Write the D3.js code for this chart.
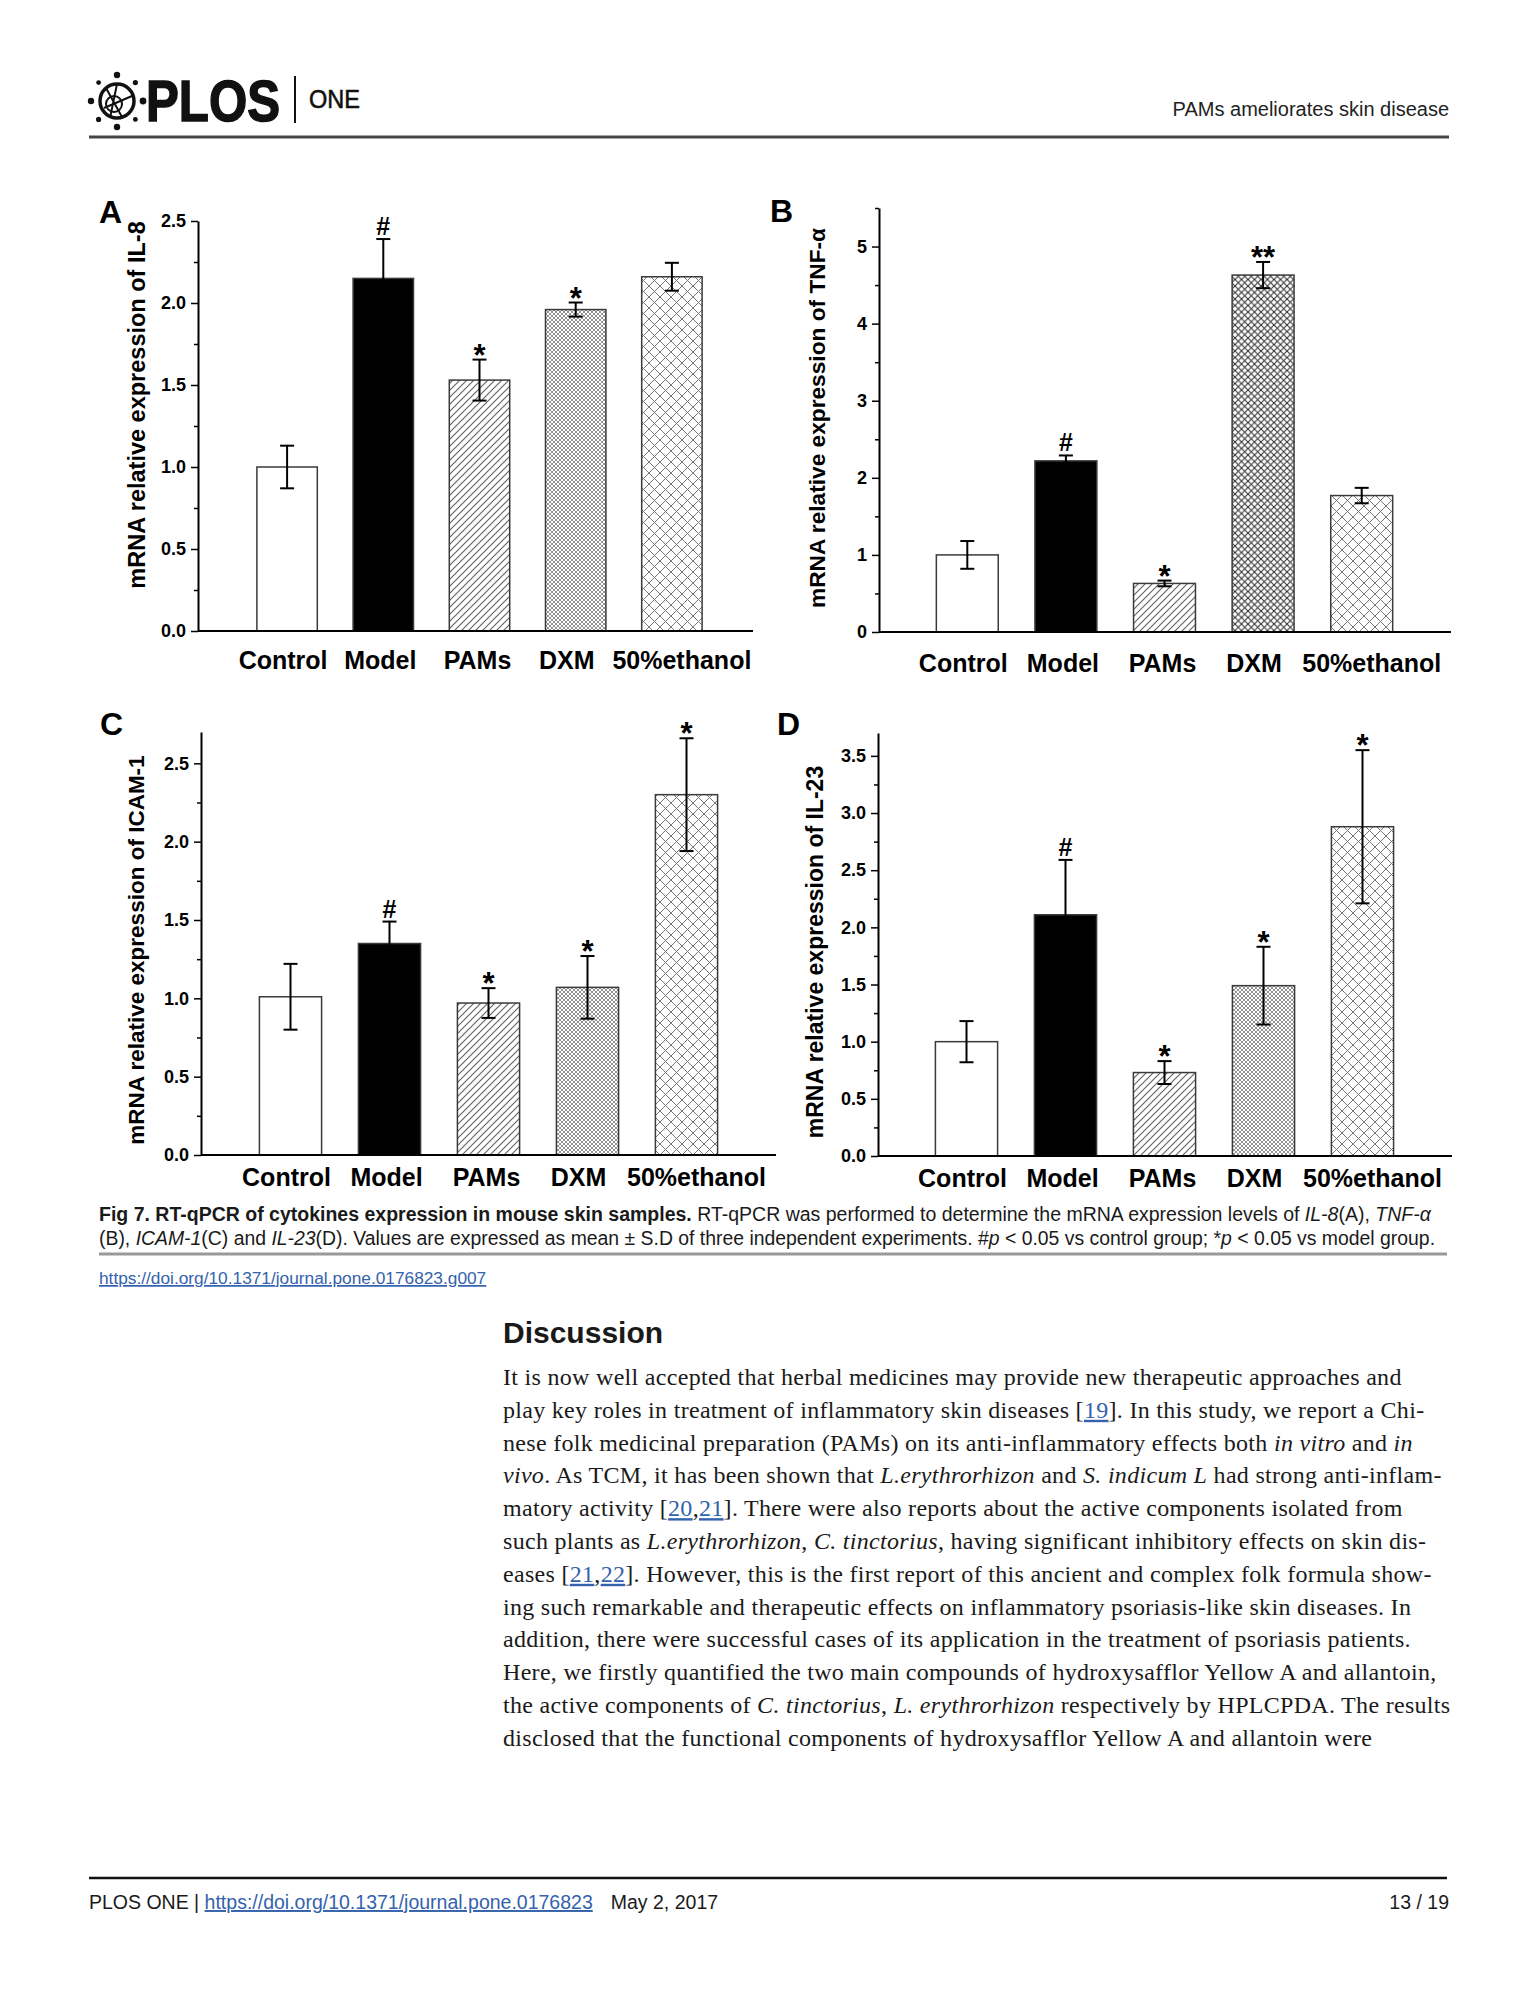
<!DOCTYPE html>
<html>
<head>
<meta charset="utf-8">
<script src="https://cdn.jsdelivr.net/npm/d3@7"></script>
<style>
body { margin: 0; background: #fff; }
</style>
</head>
<body>
<script>
// groups and values
const groups = ["Control", "Model", "PAMs", "DXM", "50%ethanol"]

const il8 = [1.00, 2.15, 1.53, 1.96, 2.16]
const il8Sd = [0.13, 0.24, 0.125, 0.043, 0.085]
const il8Marks = ["", "#", "*", "*", ""]

const tnf = [1.00, 2.22, 0.63, 4.63, 1.77]
const tnfSd = [0.18, 0.07, 0.037, 0.17, 0.10]
const tnfMarks = ["", "#", "*", "**", ""]

const icam = [1.01, 1.35, 0.97, 1.07, 2.30]
const icamSd = [0.21, 0.14, 0.095, 0.20, 0.36]
const icamMarks = ["", "#", "*", "*", "*"]

const il23 = [1.00, 2.11, 0.73, 1.49, 2.88]
const il23Sd = [0.18, 0.48, 0.10, 0.34, 0.67]
const il23Marks = ["", "#", "*", "*", "*"]

const halfTicks = [0, 0.5, 1, 1.5, 2, 2.5]
const unitTicks = [0, 1, 2, 3, 4, 5]
const il23Ticks = [0, 0.5, 1, 1.5, 2, 2.5, 3, 3.5]

const SANS = '"Liberation Sans", Arial, sans-serif'
const SERIF = '"Liberation Serif", "Times New Roman", serif'
const LINK = '#3462ad'
// the category labels in the figure sit a little off the bar centres
const labelNudge = [-4, -3, -2, -9, 10]

const svg = d3.select('body').append('svg')
    .attr('width', 1540)
    .attr('height', 2000)
    .style('background', '#fff')

// hatch patterns
const defs = svg.append('defs')
function hatch(id, size, cross, color, sw){
    const p = defs.append('pattern')
        .attr('id', id)
        .attr('patternUnits', 'userSpaceOnUse')
        .attr('width', size)
        .attr('height', size)
    p.append('rect').attr('width', size).attr('height', size).attr('fill', '#fff')
    const s = size
    p.append('path')
        .attr('d', `M${-s/2},${s/2} L${s/2},${-s/2} M0,${s} L${s},0 M${s/2},${s*1.5} L${s*1.5},${s/2}`)
        .attr('stroke', color).attr('stroke-width', sw)
    if(cross){
        p.append('path')
            .attr('d', `M${-s/2},${s/2} L${s/2},${s*1.5} M0,0 L${s},${s} M${s/2},${-s/2} L${s*1.5},${s/2}`)
            .attr('stroke', color).attr('stroke-width', sw)
    }
}
hatch('diag', 7, false, '#666', 1.2)
hatch('fine', 4, true, '#777', 0.8)
hatch('mid', 6.5, true, '#333', 1.1)
hatch('wide', 11, true, '#777', 1)
const fillsFine = ['#fff', '#000', 'url(#diag)', 'url(#fine)', 'url(#wide)']
const fillsMid = ['#fff', '#000', 'url(#diag)', 'url(#mid)', 'url(#wide)']

function drawPanel(p){
    const g = svg.append('g')
    const y = d3.scaleLinear().domain([0, p.max]).range([p.bottom, p.top])
    const x = d3.scaleBand()
        .domain(groups)
        .range([p.left + p.inset[0], p.right - p.inset[1]])
        .paddingInner(0.372)
        .paddingOuter(0.186)

    //bars
    g.selectAll('rect.bar')
    .data(p.values)
    .enter()
        .append('rect')
        .attr('class', 'bar')
        .attr('x', (d, i) => x(groups[i]))
        .attr('y', d => y(d))
        .attr('width', x.bandwidth())
        .attr('height', d => p.bottom - y(d))
        .attr('fill', (d, i) => p.fills[i])
        .attr('stroke', '#3a3a3a')
        .attr('stroke-width', 1.5)

    //error bars
    const cx = i => x(groups[i]) + x.bandwidth() / 2
    const err = g.selectAll('g.err')
    .data(p.values)
    .enter()
        .append('g')
        .attr('stroke', '#000')
        .attr('stroke-width', 2)
    err.append('line')
        .attr('x1', (d, i) => cx(i)).attr('x2', (d, i) => cx(i))
        .attr('y1', (d, i) => y(d - p.sd[i])).attr('y2', (d, i) => y(d + p.sd[i]))
    err.append('line')
        .attr('x1', (d, i) => cx(i) - 7).attr('x2', (d, i) => cx(i) + 7)
        .attr('y1', (d, i) => y(d + p.sd[i])).attr('y2', (d, i) => y(d + p.sd[i]))
    err.append('line')
        .attr('x1', (d, i) => cx(i) - 7).attr('x2', (d, i) => cx(i) + 7)
        .attr('y1', (d, i) => y(d - p.sd[i])).attr('y2', (d, i) => y(d - p.sd[i]))

    //significance marks
    g.selectAll('text.mark')
    .data(p.values)
    .enter()
        .append('text')
        .attr('x', (d, i) => cx(i))
        .attr('y', (d, i) => y(d + p.sd[i]) + (p.marks[i] == '#' ? -4 : 6))
        .attr('text-anchor', 'middle')
        .attr('font-family', SANS)
        .attr('font-weight', 'bold')
        .attr('font-size', (d, i) => p.marks[i] == '#' ? 25 : 31)
        .text((d, i) => p.marks[i])

    //y axis
    const yAxis = g.append('g')
        .attr('transform', `translate(${p.left},0)`)
        .call(d3.axisLeft(y).tickValues(p.ticks).tickFormat(p.fmt).tickSize(7).tickSizeOuter(0).tickPadding(5))
        .attr('font-family', SANS)
        .attr('font-weight', 'bold')
        .attr('font-size', 18)
    yAxis.select('.domain').attr('stroke-width', 2)
    yAxis.selectAll('.tick line').attr('stroke-width', 1.5)

    const minor = d3.range(p.ticks[1] / 2, p.max + 1e-9, p.ticks[1]).filter(v => !p.ticks.includes(v))
    g.append('g')
        .attr('transform', `translate(${p.left},0)`)
        .call(d3.axisLeft(y).tickValues(minor).tickFormat('').tickSize(4).tickSizeOuter(0))
        .call(a => a.select('.domain').remove())
        .selectAll('.tick line').attr('stroke-width', 1.5)

    //x axis
    g.append('line')
        .attr('x1', p.left).attr('x2', p.right)
        .attr('y1', p.bottom).attr('y2', p.bottom)
        .attr('stroke', '#000').attr('stroke-width', 2)
    g.append('g')
        .attr('transform', `translate(0,${p.bottom})`)
        .call(d3.axisBottom(x).tickSize(0).tickPadding(p.labelPad))
        .call(a => a.select('.domain').remove())
        .attr('font-family', SANS)
        .attr('font-weight', 'bold')
        .attr('font-size', 25)
        .selectAll('text')
        .attr('dx', (d, i) => labelNudge[i])

    //y title
    g.append('text')
        .attr('transform', `translate(${p.titleX},${p.titleY}) rotate(-90)`)
        .attr('dy', '0.35em')
        .attr('text-anchor', 'middle')
        .attr('font-family', SANS)
        .attr('font-weight', 'bold')
        .attr('font-size', p.titleSize)
        .text(p.title)

    //panel letter
    g.append('text')
        .attr('x', p.letterX).attr('y', p.letterY)
        .attr('font-family', SANS)
        .attr('font-weight', 'bold')
        .attr('font-size', 32)
        .text(p.letter)
}

const fmt1 = d3.format('.1f')
const fmt0 = d3.format('d')

drawPanel({ letter: 'A', title: 'mRNA relative expression of IL-8', values: il8, sd: il8Sd, marks: il8Marks,
    ticks: halfTicks, fmt: fmt1, max: 2.5, left: 198, right: 753, top: 221, bottom: 631, inset: [41, 33],
    fills: fillsFine, labelPad: 20, titleX: 137, titleY: 405, titleSize: 23.5, letterX: 99, letterY: 223 })
drawPanel({ letter: 'B', title: 'mRNA relative expression of TNF-\u03b1', values: tnf, sd: tnfSd, marks: tnfMarks,
    ticks: unitTicks, fmt: fmt0, max: 5.5, left: 879, right: 1451, top: 208, bottom: 632, inset: [39, 40],
    fills: fillsMid, labelPad: 22, titleX: 817, titleY: 418, titleSize: 22.7, letterX: 770, letterY: 222 })
drawPanel({ letter: 'C', title: 'mRNA relative expression of ICAM-1', values: icam, sd: icamSd, marks: icamMarks,
    ticks: halfTicks, fmt: fmt1, max: 2.7, left: 201, right: 776, top: 732, bottom: 1155, inset: [40, 40],
    fills: fillsFine, labelPad: 13, titleX: 136, titleY: 950, titleSize: 22.5, letterX: 100, letterY: 735 })
drawPanel({ letter: 'D', title: 'mRNA relative expression of IL-23', values: il23, sd: il23Sd, marks: il23Marks,
    ticks: il23Ticks, fmt: fmt1, max: 3.7, left: 878, right: 1452, top: 733, bottom: 1156, inset: [39, 40],
    fills: fillsFine, labelPad: 13, titleX: 815, titleY: 952, titleSize: 23, letterX: 777, letterY: 735 })

// page furniture
function richLine(x, y, segs, family, size, color){
    const t = svg.append('text')
        .attr('x', x).attr('y', y)
        .attr('font-family', family)
        .attr('font-size', size)
        .attr('fill', color || '#1a1a1a')
    segs.forEach(s => {
        const sp = t.append('tspan').text(s[0])
        if(s[1] == 'i') sp.attr('font-style', 'italic')
        if(s[1] == 'b') sp.attr('font-weight', 'bold')
        if(s[1] == 'a') sp.attr('fill', LINK).attr('text-decoration', 'underline')
        if(s[2]) sp.attr('dx', s[2])
    })
    return t
}

// header
const logo = svg.append('g')
logo.append('circle').attr('cx', 117).attr('cy', 101).attr('r', 17)
    .attr('fill', 'none').attr('stroke', '#111').attr('stroke-width', 3.5)
logo.append('circle').attr('cx', 114).attr('cy', 104).attr('r', 8)
    .attr('fill', 'none').attr('stroke', '#111').attr('stroke-width', 2)
logo.append('path').attr('d', 'M106,88 L122,117 M104,108 L132,96 M117,84 L110,118')
    .attr('fill', 'none').attr('stroke', '#111').attr('stroke-width', 2)
const dots = [[-90, 3.2], [-45, 2.6], [0, 3.4], [45, 2.4], [90, 3.2], [135, 2.6], [180, 3.2], [-135, 2.4]]
logo.selectAll('circle.dot').data(dots).enter().append('circle')
    .attr('cx', d => 117 + 26 * Math.cos(d[0] * Math.PI / 180))
    .attr('cy', d => 101 + 26 * Math.sin(d[0] * Math.PI / 180))
    .attr('r', d => d[1]).attr('fill', '#111')
svg.append('text').attr('x', 146).attr('y', 121)
    .attr('font-family', SANS).attr('font-weight', 'bold').attr('font-size', 58)
    .attr('textLength', 134).attr('lengthAdjust', 'spacingAndGlyphs')
    .attr('stroke', '#111').attr('stroke-width', 1.5).attr('fill', '#111')
    .text('PLOS')
svg.append('line').attr('x1', 295).attr('x2', 295).attr('y1', 76).attr('y2', 123)
    .attr('stroke', '#111').attr('stroke-width', 2)
svg.append('text').attr('x', 309).attr('y', 108)
    .attr('font-family', SANS).attr('font-size', 26)
    .attr('stroke', '#111').attr('stroke-width', 0.6)
    .attr('textLength', 51).attr('lengthAdjust', 'spacingAndGlyphs').attr('fill', '#111')
    .text('ONE')
svg.append('text').attr('x', 1449).attr('y', 116).attr('text-anchor', 'end')
    .attr('font-family', SANS).attr('font-size', 20).attr('fill', '#222')
    .text('PAMs ameliorates skin disease')
svg.append('line').attr('x1', 89).attr('x2', 1449).attr('y1', 137).attr('y2', 137)
    .attr('stroke', '#444').attr('stroke-width', 3)

// caption
richLine(99, 1221, [
    ['Fig 7. RT-qPCR of cytokines expression in mouse skin samples.', 'b'],
    [' RT-qPCR was performed to determine the mRNA expression levels of '],
    ['IL-8', 'i'], ['(A), '], ['TNF-\u03b1', 'i']
], SANS, 19.5)
richLine(99, 1245, [
    ['(B), '], ['ICAM-1', 'i'], ['(C) and '], ['IL-23', 'i'],
    ['(D). Values are expressed as mean \u00b1 S.D of three independent experiments. #'], ['p', 'i'],
    [' < 0.05 vs control group; *'], ['p', 'i'], [' < 0.05 vs model group.']
], SANS, 19.4)
svg.append('line').attr('x1', 99).attr('x2', 1447).attr('y1', 1254).attr('y2', 1254)
    .attr('stroke', '#999').attr('stroke-width', 3)
richLine(99, 1284, [['https://doi.org/10.1371/journal.pone.0176823.g007', 'a']], SANS, 17.3)

// discussion
svg.append('text').attr('x', 503).attr('y', 1343)
    .attr('font-family', SANS).attr('font-weight', 'bold').attr('font-size', 30).attr('fill', '#1a1a1a')
    .text('Discussion')

const bodyLines = [
    [['It is now well accepted that herbal medicines may provide new therapeutic approaches and']],
    [['play key roles in treatment of inflammatory skin diseases ['], ['19', 'a'], ['].  In this study, we report a Chi-']],
    [['nese folk medicinal preparation (PAMs) on its anti-inflammatory effects both '], ['in vitro', 'i'], [' and '], ['in', 'i']],
    [['vivo', 'i'], ['. As TCM, it has been shown that '], ['L.erythrorhizon', 'i'], [' and '], ['S. indicum L', 'i'], [' had strong anti-inflam-']],
    [['matory activity ['], ['20', 'a'], [','], ['21', 'a'], [']. There were also reports about the active components isolated from']],
    [['such plants as '], ['L.erythrorhizon', 'i'], [', '], ['C. tinctorius', 'i'], [', having significant inhibitory effects on skin dis-']],
    [['eases ['], ['21', 'a'], [','], ['22', 'a'], [']. However, this is the first report of this ancient and complex folk formula show-']],
    [['ing such remarkable and therapeutic effects on inflammatory psoriasis-like skin diseases. In']],
    [['addition, there were successful cases of its application in the treatment of psoriasis patients.']],
    [['Here, we firstly quantified the two main compounds of hydroxysafflor Yellow A and allantoin,']],
    [['the active components of '], ['C. tinctorius', 'i'], [', '], ['L. erythrorhizon', 'i'], [' respectively by HPLCPDA. The results']],
    [['disclosed that the functional components of hydroxysafflor Yellow A and allantoin were']]
]
bodyLines.forEach((segs, i) => richLine(503, 1385 + i * 32.8, segs, SERIF, 24).attr('letter-spacing', 0.3))

// footer
svg.append('line').attr('x1', 89).attr('x2', 1447).attr('y1', 1878).attr('y2', 1878)
    .attr('stroke', '#111').attr('stroke-width', 2.5)
richLine(89, 1909, [['PLOS ONE | '], ['https://doi.org/10.1371/journal.pone.0176823', 'a'], ['May 2, 2017', '', 18]], SANS, 19.5)
svg.append('text').attr('x', 1449).attr('y', 1909).attr('text-anchor', 'end')
    .attr('font-family', SANS).attr('font-size', 19.5).attr('fill', '#1a1a1a')
    .text('13 / 19')
</script>
</body>
</html>
